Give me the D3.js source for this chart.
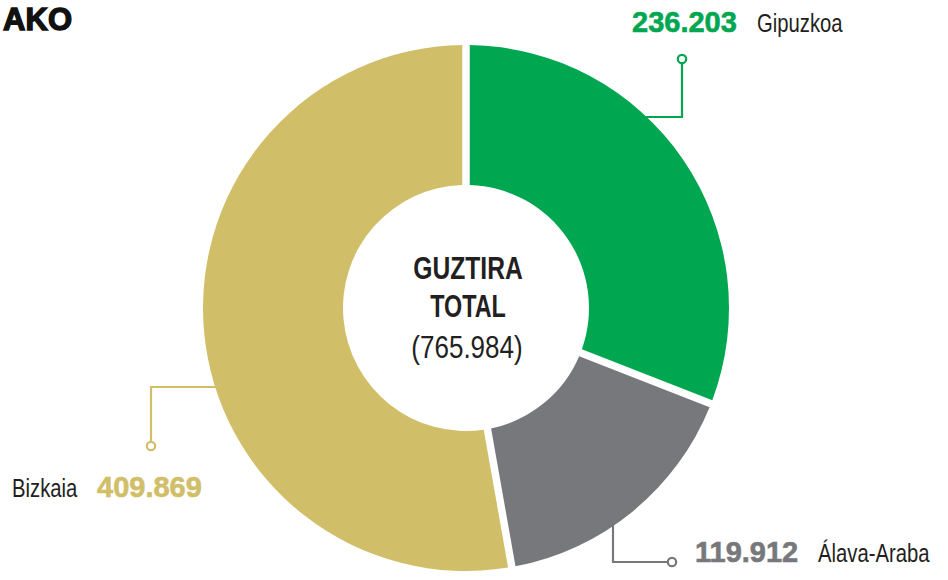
<!DOCTYPE html>
<html>
<head>
<meta charset="utf-8">
<script src="https://cdn.jsdelivr.net/npm/d3@7"></script>
<style>
  html, body { margin: 0; padding: 0; background: #fff; }
  svg { display: block; }
</style>
</head>
<body>
<div id="chart"></div>
<script>
// 데이터
const regions = ['Gipuzkoa', 'Álava-Araba', 'Bizkaia'];
const values = [236203, 119912, 409869];
const colors = ['#00a650', '#77787b', '#d1be69'];
const totalLabel = ['GUZTIRA', 'TOTAL'];

const width = 948, height = 580;
const cx = 466, cy = 308;
const outerR = 263, innerR = 123;

const fmt = v => d3.format(',')(v).replace(/,/g, '.');
const sans = '"Liberation Sans", Arial, sans-serif';
const ink = '#231f20';

// 좁은 글꼴 흉내: 가로 방향으로만 축소한 그룹 안에 텍스트 배치
function narrowText(parent, x, y, f, anchor = 'start') {
    return parent.append('g')
        .attr('transform', `translate(${x},${y}) scale(${f},1)`)
        .append('text')
        .attr('text-anchor', anchor);
}

const svg = d3.select('#chart').append('svg')
    .attr('width', width)
    .attr('height', height);

// 제목 (잘린 부분)
svg.append('text')
    .attr('x', 72).attr('y', 30)
    .attr('text-anchor', 'end')
    .style('font-family', sans)
    .style('font-weight', 900)
    .style('font-size', '31px')
    .style('fill', '#111')
    .style('stroke', '#111')
    .style('stroke-width', 1.4)
    .text('AKO');

const pie = d3.pie().sort(null).value(d => d).padAngle(0.075);
const arc = d3.arc().innerRadius(innerR).outerRadius(outerR).padRadius(100);

const g = svg.append('g').attr('transform', `translate(${cx},${cy})`);

g.selectAll('path')
    .data(pie(values))
    .join('path')
    .attr('d', arc)
    .attr('fill', (d, i) => colors[i]);

// 가운데 텍스트
narrowText(g, 2, -29, 0.77, 'middle')
    .style('font-family', sans).style('font-weight', 700).style('font-size', '32px')
    .style('fill', ink)
    .text(totalLabel[0]);
narrowText(g, 2, 9, 0.73, 'middle')
    .style('font-family', sans).style('font-weight', 700).style('font-size', '32px')
    .style('fill', ink)
    .text(totalLabel[1]);
narrowText(g, 1, 50, 0.84, 'middle')
    .style('font-family', sans).style('font-size', '31px')
    .style('fill', ink)
    .text(`(${fmt(d3.sum(values))})`);

// 콜아웃: 원 위치 + 꺾이는 점 (도넛 가장자리까지 선)
const edgeX = (y, side) => cx + side * (Math.sqrt(outerR * outerR - (y - cy) * (y - cy)) - 2);
const edgeY = (x, side) => cy + side * (Math.sqrt(outerR * outerR - (x - cx) * (x - cx)) - 2);

const callouts = [
    { dot: [682, 59], points: () => [[682, 63], [682, 117], [edgeX(117, 1), 117]],
      num: { x: 632, y: 32 }, name: { x: 757, y: 32 } },
    { dot: [672, 562], points: () => [[668, 562], [613, 562], [613, edgeY(613, 1)]],
      num: { x: 695, y: 562 }, name: { x: 818, y: 562 } },
    { dot: [151, 446], points: () => [[151, 442], [151, 387], [edgeX(387, -1), 387]],
      num: { x: 97, y: 497 }, name: { x: 12, y: 497 } }
];

callouts.forEach((c, i) => {
    svg.append('path')
        .attr('d', d3.line()(c.points()))
        .attr('fill', 'none')
        .attr('stroke', colors[i])
        .attr('stroke-width', 2.2);
    svg.append('circle')
        .attr('cx', c.dot[0]).attr('cy', c.dot[1]).attr('r', 4.2)
        .attr('fill', '#fff')
        .attr('stroke', colors[i])
        .attr('stroke-width', 2.2);
    svg.append('text')
        .attr('x', c.num.x).attr('y', c.num.y)
        .style('font-family', sans)
        .style('font-weight', 700).style('font-size', '29px')
        .style('fill', colors[i])
        .style('stroke', colors[i])
        .style('stroke-width', 0.6)
        .text(fmt(values[i]));
    narrowText(svg, c.name.x, c.name.y, 0.78)
        .style('font-family', sans)
        .style('font-size', '26px')
        .style('fill', ink)
        .text(regions[i]);
});
</script>
</body>
</html>
